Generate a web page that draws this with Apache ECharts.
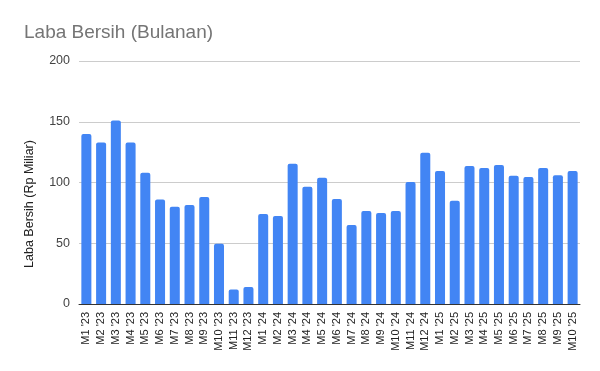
<!DOCTYPE html>
<html><head><meta charset="utf-8">
<script src="https://cdn.jsdelivr.net/npm/echarts@6/dist/echarts.min.js"></script>
<style>html,body{margin:0;padding:0;background:#fff}#c{width:600px;height:371px}</style>
</head><body><div id="c"></div>
<script>
const categories = ["M1 '23","M2 '23","M3 '23","M4 '23","M5 '23","M6 '23","M7 '23","M8 '23","M9 '23","M10 '23","M11 '23","M12 '23",
"M1 '24","M2 '24","M3 '24","M4 '24","M5 '24","M6 '24","M7 '24","M8 '24","M9 '24","M10 '24","M11 '24","M12 '24",
"M1 '25","M2 '25","M3 '25","M4 '25","M5 '25","M6 '25","M7 '25","M8 '25","M9 '25","M10 '25"];
const labaBersih = [140,133,151,133,108,86,80,81.5,88,49.5,12,14,
74,72.5,115.5,96.5,104,86.5,65,76.5,75,76.5,100.5,124.5,
109.5,85,113.5,112,114.5,105.5,104.5,112,106,109.5];
const yTicks = [0,50,100,150,200];
const titleText = "Laba Bersih (Bulanan)";
const yAxisName = "Laba Bersih (Rp Miliar)";

const FONT = '"Liberation Sans", Arial, sans-serif';
const chart = echarts.init(document.getElementById('c'), null, {renderer:'canvas'});
chart.setOption({
  animation:false,
  backgroundColor:'#fff',
  textStyle:{fontFamily:FONT},
  title:{text:titleText,left:19,top:18,textStyle:{fontSize:19,fontWeight:'normal',color:'#757575',fontFamily:FONT}},
  grid:{left:79,right:20,top:61,bottom:67,containLabel:false},
  graphic:[{type:'text',x:30,y:204,rotation:Math.PI/2,
    style:{text:yAxisName,font:'12.5px '+FONT,fill:'#222',textAlign:'center',textVerticalAlign:'middle'}}],
  xAxis:{type:'category',data:categories,
    axisLine:{lineStyle:{color:'#333',width:1}},
    axisTick:{show:false},
    axisLabel:{rotate:90,interval:0,fontSize:11,color:'#222',margin:8}},
  yAxis:{type:'value',min:yTicks[0],max:yTicks[yTicks.length-1],interval:50,
    axisLine:{show:false},axisTick:{show:false},
    axisLabel:{fontSize:12.5,color:'#444',margin:9},
    splitLine:{lineStyle:{color:'#cccccc',width:1}}},
  series:[{type:'bar',data:labaBersih,barCategoryGap:'32%',
    itemStyle:{color:'#4285f4',borderRadius:[2,2,0,0]}}]
});
</script></body></html>
